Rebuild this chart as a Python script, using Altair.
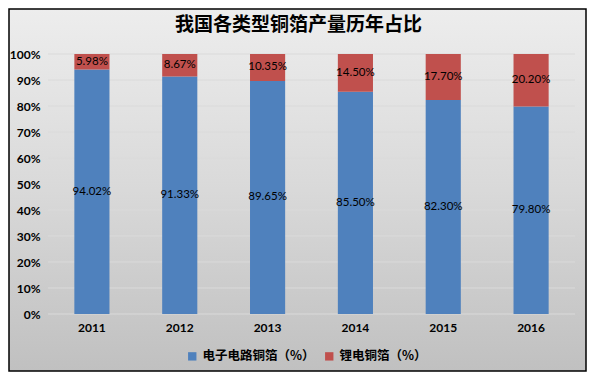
import altair as alt
import pandas as pd

title_text = "我国各类型铜箔产量历年占比"
years = ["2011", "2012", "2013", "2014", "2015", "2016"]
circuit = [94.02, 91.33, 89.65, 85.50, 82.30, 79.80]
lithium = [5.98, 8.67, 10.35, 14.50, 17.70, 20.20]
series_names = ["电子电路铜箔（%）", "锂电铜箔（%）"]
colors = ["#4f81bd", "#c0504d"]
y_ticks = [0, 10, 20, 30, 40, 50, 60, 70, 80, 90, 100]

rows = []
for i, y in enumerate(years):
    rows.append({"year": y, "series": series_names[0], "value": circuit[i], "order": 0})
    rows.append({"year": y, "series": series_names[1], "value": lithium[i], "order": 1})
df = pd.DataFrame(rows)

W, H = 527, 260
PL, PT, PR, PB = 40, 46, 12, 58

grad = alt.LinearGradient(
    gradient="linear",
    stops=[alt.GradientStop(color="#ededed", offset=0),
           alt.GradientStop(color="#d9d9d9", offset=0.5),
           alt.GradientStop(color="#c0c0c0", offset=1)],
    x1=0, x2=0, y1=0, y2=1,
)

bg = alt.Chart(pd.DataFrame({"a": [0]})).mark_rect(
    fill=grad, stroke="#000000", strokeWidth=1.5
).encode(
    x=alt.value(-PL + 1), x2=alt.value(W + PR - 1),
    y=alt.value(-PT + 1), y2=alt.value(H + PB - 1),
)

title = alt.Chart(pd.DataFrame({"t": [title_text]})).mark_text(
    font="Noto Sans CJK SC", fontSize=19, fontWeight="bold", color="#000000",
    align="center", baseline="middle"
).encode(
    x=alt.value(W / 2 - 13), y=alt.value(-29), text="t:N"
)

yscale = alt.Scale(domain=[0, 100], nice=False)
yaxis = alt.Axis(values=y_ticks, labelExpr="datum.value + '%'",
                 labelOverlap=False, ticks=False, domain=False, grid=False,
                 labelFont="Lato", labelFontWeight="bold",
                 labelFontSize=12, labelColor="#000000",
                 labelPadding=8, zindex=1)
xscale = alt.Scale(paddingInner=0.6, paddingOuter=0.3)
xaxis = alt.Axis(labelAngle=0, ticks=False, domain=False, grid=False,
                 labelFont="Lato", labelFontWeight="bold",
                 labelFontSize=12, labelColor="#000000",
                 labelPadding=8, zindex=1)

grid = alt.Chart(pd.DataFrame({"t": y_ticks})).mark_rule(
    color="#dadada", strokeWidth=1
).encode(
    y=alt.Y("t:Q", scale=yscale, title=None, axis=yaxis),
    x=alt.value(0), x2=alt.value(W),
)

base = alt.Chart(df).transform_stack(
    stack="value", as_=["v0", "v1"], groupby=["year"],
    sort=[alt.SortField("order", order="ascending")],
).transform_calculate(
    mid="(datum.v0 + datum.v1) / 2",
    label="format(datum.value, '.2f') + '%'",
)

bars = base.mark_bar().encode(
    x=alt.X("year:N", sort=years, title=None, scale=xscale, axis=xaxis),
    y=alt.Y("v0:Q", title=None, scale=yscale, axis=yaxis),
    y2="v1:Q",
    color=alt.Color("series:N", sort=series_names,
                    scale=alt.Scale(domain=series_names, range=colors),
                    legend=alt.Legend(
                        title=None, orient="none", direction="horizontal",
                        legendX=138, legendY=296,
                        symbolType="square", symbolSize=70,
                        symbolStrokeWidth=0,
                        labelFont="Noto Sans CJK SC", labelFontWeight="bold",
                        labelFontSize=12.5, labelColor="#000000",
                        columnPadding=8, labelOffset=4, zindex=1)),
    order=alt.Order("order:Q"),
)

labels = base.mark_text(font="Lato", fontSize=11.5, color="#000000").encode(
    x=alt.X("year:N", sort=years, title=None, scale=xscale, axis=xaxis),
    y=alt.Y("mid:Q", title=None, scale=yscale, axis=yaxis),
    text="label:N",
)

chart = alt.layer(bg, title, grid, bars, labels).properties(
    width=W, height=H,
    autosize=alt.AutoSizeParams(type="none"),
    padding={"left": PL, "top": PT, "right": PR, "bottom": PB},
    background="#ffffff",
).configure_view(stroke=None)

chart.save("out.html", embed_options={"renderer": "svg", "actions": False})
